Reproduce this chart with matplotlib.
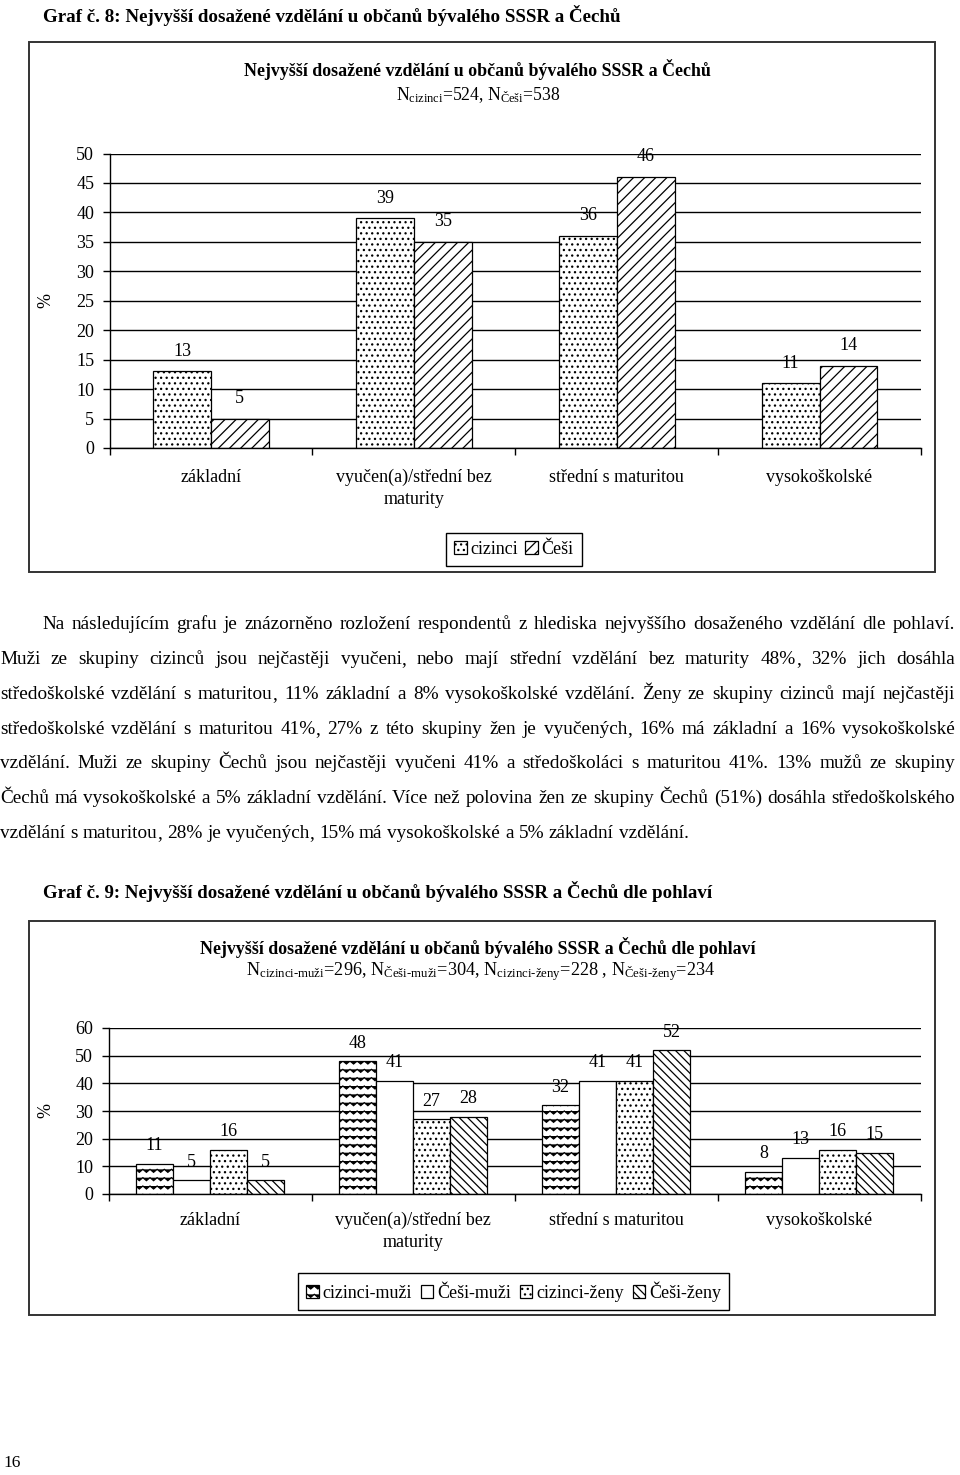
import warnings
import numpy as np
import matplotlib
matplotlib.use('Agg')
import matplotlib.pyplot as plt
import matplotlib.hatch as mhatch
from matplotlib.patches import Rectangle
from matplotlib.font_manager import FontProperties

warnings.filterwarnings('ignore')

W, H = 960, 1475
SERIF = 'Liberation Serif'

plt.rcParams['font.family'] = SERIF
plt.rcParams['mathtext.fontset'] = 'custom'
plt.rcParams['mathtext.rm'] = SERIF
plt.rcParams['mathtext.it'] = SERIF + ':italic'
plt.rcParams['mathtext.bf'] = SERIF + ':bold'
plt.rcParams['hatch.linewidth'] = 0.9

# data
categories = ['základní', 'vyučen(a)/střední bez\nmaturity', 'střední s maturitou', 'vysokoškolské']
cizinci = [13, 39, 36, 11]
cesi = [5, 35, 46, 14]
cizinci_muzi = [11, 48, 32, 8]
cesi_muzi = [5, 41, 41, 13]
cizinci_zeny = [16, 27, 41, 16]
cesi_zeny = [5, 28, 52, 15]

page_title_8 = 'Graf č. 8: Nejvyšší dosažené vzdělání u občanů bývalého SSSR a Čechů'
page_title_9 = 'Graf č. 9: Nejvyšší dosažené vzdělání u občanů bývalého SSSR a Čechů dle pohlaví'
chart_title_1 = 'Nejvyšší dosažené vzdělání u občanů bývalého SSSR a Čechů'
chart_sub_1 = r'N$_{\text{cizinci}}$=524, N$_{\text{Češi}}$=538'
chart_title_2 = 'Nejvyšší dosažené vzdělání u občanů bývalého SSSR a Čechů dle pohlaví'
chart_sub_2 = (r'N$_{\text{cizinci-muži}}$=296, N$_{\text{Češi-muži}}$=304, '
               r'N$_{\text{cizinci-ženy}}$=228 , N$_{\text{Češi-ženy}}$=234')

paragraph = [
    'Na následujícím grafu je znázorněno rozložení respondentů z hlediska nejvyššího dosaženého vzdělání dle pohlaví.',
    'Muži ze skupiny cizinců jsou nejčastěji vyučeni, nebo mají střední vzdělání bez maturity 48%, 32% jich dosáhla',
    'středoškolské vzdělání s maturitou, 11% základní a 8% vysokoškolské vzdělání. Ženy ze skupiny cizinců mají nejčastěji',
    'středoškolské vzdělání s maturitou 41%, 27% z této skupiny žen je vyučených, 16% má základní a 16% vysokoškolské',
    'vzdělání. Muži ze skupiny Čechů jsou nejčastěji vyučeni 41% a středoškoláci s maturitou 41%. 13% mužů ze skupiny',
    'Čechů má vysokoškolské a 5% základní vzdělání. Více než polovina žen ze skupiny Čechů (51%) dosáhla středoškolského',
    'vzdělání s maturitou, 28% je vyučených, 15% má vysokoškolské a 5% základní vzdělání.',
]


# zigzag fill pattern, registered as an extra hatch type ('z')
class ZigZagHatch(mhatch.HatchPatternBase):
    def __init__(self, hatch, density):
        self.rows = hatch.count('z') * 12
        self.teeth = 14
        self.num_vertices = self.rows * (2 * self.teeth + 1)

    def set_vertices_and_codes(self, vertices, codes):
        n = 2 * self.teeth + 1
        xs = np.linspace(0, 1, n)
        amp = np.where(np.arange(n) % 2 == 0, 0.015, -0.015)
        for i in range(self.rows):
            yc = (i + 0.5) / self.rows
            vertices[i * n:(i + 1) * n, 0] = xs
            vertices[i * n:(i + 1) * n, 1] = yc + amp
            codes[i * n] = mhatch.Path.MOVETO
            codes[i * n + 1:(i + 1) * n] = mhatch.Path.LINETO


mhatch._hatch_types.append(ZigZagHatch)

fig = plt.figure(figsize=(W / 100, H / 100), dpi=100)
pg = fig.add_axes([0, 0, 1, 1])
pg.set_xlim(0, W)
pg.set_ylim(H, 0)
pg.axis('off')
renderer = fig.canvas.get_renderer()


def width(s, size):
    prop = FontProperties(family=SERIF, size=size)
    return renderer.get_text_width_height_descent(s, prop, ismath=False)[0]


def fit_text(x0, x1, y, s, **kw):
    t = pg.text(x0, y, s, fontsize=10, va='center', ha='left', **kw)
    w = t.get_window_extent(renderer).width
    t.set_fontsize(10 * (x1 - x0) / w)
    return t


def justify(line, base, x0, x1, size, last=False):
    # one text per word, spread evenly between the margins;
    # a trailing comma is drawn as its own piece right after the word
    words = line.split(' ')
    widths = [width(w, size) for w in words]
    if last:
        gap = width('a a', size) - width('aa', size)
    else:
        gap = (x1 - x0 - sum(widths)) / (len(words) - 1)
    xp = x0
    for w, ww in zip(words, widths):
        if w.endswith(',') and len(w) > 1:
            core = w[:-1]
            pg.text(xp, base, core, fontsize=size, va='baseline', ha='left')
            pg.text(xp + width(core, size), base, ',', fontsize=size,
                    va='baseline', ha='left')
        else:
            pg.text(xp, base, w, fontsize=size, va='baseline', ha='left')
        xp += ww + gap


def px_axes(x0, y0, x1, y1):
    return fig.add_axes([x0 / W, 1 - y1 / H, (x1 - x0) / W, (y1 - y0) / H])


# page texts
fit_text(43, 625, 16, page_title_8, fontweight='bold')
fit_text(43, 712, 892, page_title_9, fontweight='bold')
pg.text(3, 1463, '16', fontsize=12.5, va='center', ha='left')

# paragraph font size from the last (left aligned) line
psize = 10 * 692 / width(paragraph[-1], 10)
base0 = 625 + 0.23 * psize * 100 / 72
for i, line in enumerate(paragraph):
    y = round(base0 + i * 34.7)
    if i == 0:
        justify(line, y, 42, 955, psize)
    elif i == len(paragraph) - 1:
        justify(line, y, 0, 955, psize, last=True)
    else:
        justify(line, y, 0, 955, psize)

# chart frames
for (x0, y0, x1, y1) in [(29, 42, 935, 572), (29, 921, 935, 1315)]:
    pg.add_patch(Rectangle((x0, y0), x1 - x0, y1 - y0, fill=False,
                           edgecolor='#333333', lw=1.4))

fit_text(244, 713, 69, chart_title_1, fontweight='bold')
fit_text(396, 561, 95, chart_sub_1)
fit_text(200, 757, 947, chart_title_2, fontweight='bold')
fit_text(246, 715, 972, chart_sub_2)

FS = 13
x = np.arange(len(categories))


def style(ax, ymax, step, catpad):
    ax.set_xlim(-0.5, 3.5)
    ax.set_ylim(0, ymax)
    ax.set_yticks(np.arange(0, ymax + 1, step))
    ax.yaxis.grid(True, color='black', lw=1.0)
    ax.set_axisbelow(True)
    ax.patch.set_alpha(0)
    for s in ['top', 'right']:
        ax.spines[s].set_visible(False)
    for s in ['left', 'bottom']:
        ax.spines[s].set_linewidth(1.0)
    ax.set_xticks([-0.5, 0.5, 1.5, 2.5, 3.5])
    ax.set_xticklabels([])
    ax.set_xticks(x, categories, minor=True)
    ax.tick_params(axis='x', which='minor', length=0, pad=catpad, labelsize=FS)
    ax.tick_params(axis='x', which='major', length=5, width=1.0)
    ax.tick_params(axis='y', length=5, width=1.0, pad=6, labelsize=FS)
    for lab in ax.get_xticklabels(minor=True):
        lab.set_linespacing(1.35)
    ax.set_ylabel('%', fontsize=FS)


def labels(ax, xs, vals, off):
    for xi, v in zip(xs, vals):
        ax.annotate(str(v), (xi, v), xytext=(0, off), textcoords='offset points',
                    ha='center', va='center', fontsize=FS)


# chart 1
ax1 = px_axes(109.5, 153.5, 921, 448)
bw = 0.285
ax1.bar(x - bw / 2, cizinci, bw, facecolor='white', edgecolor='black', lw=0.9,
        hatch='...', label='cizinci')
ax1.bar(x + bw / 2, cesi, bw, facecolor='white', edgecolor='black', lw=0.9,
        hatch='///', label='Češi')
labels(ax1, x - bw / 2, cizinci, 14.5)
labels(ax1, x + bw / 2, cesi, 14.5)
style(ax1, 50, 5, 15)
ax1.yaxis.set_label_coords((54.5 - 109.5) / (921 - 109.5), 0.5)
leg1 = ax1.legend(loc='center', bbox_to_anchor=(514 / W, 1 - 549.5 / H),
                  bbox_transform=fig.transFigure, ncol=2, fancybox=False,
                  edgecolor='black', handlelength=0.7, handleheight=0.7,
                  handletextpad=0.2, columnspacing=0.4, borderpad=0.45,
                  fontsize=FS, framealpha=1)
leg1.get_frame().set_linewidth(1.0)

# chart 2
ax2 = px_axes(108.5, 1028, 920.5, 1194)
bw2 = 0.182
series2 = [(cizinci_muzi, 'z', 'cizinci-muži'),
           (cesi_muzi, None, 'Češi-muži'),
           (cizinci_zeny, '...', 'cizinci-ženy'),
           (cesi_zeny, '\\\\\\\\', 'Češi-ženy')]
for k, (vals, hatch, name) in enumerate(series2):
    xs = x + (k - 1.5) * bw2
    ax2.bar(xs, vals, bw2, facecolor='white', edgecolor='black', lw=0.9,
            hatch=hatch, label=name)
    labels(ax2, xs, vals, 13)
style(ax2, 60, 10, 13)
ax2.yaxis.set_label_coords((54 - 108.5) / (920.5 - 108.5), 0.5)
leg2 = ax2.legend(loc='center', bbox_to_anchor=(513.5 / W, 1 - 1291.5 / H),
                  bbox_transform=fig.transFigure, ncol=4, fancybox=False,
                  edgecolor='black', handlelength=0.7, handleheight=0.7,
                  handletextpad=0.2, columnspacing=0.5, borderpad=0.45,
                  fontsize=FS, framealpha=1)
leg2.get_frame().set_linewidth(1.0)

fig.savefig('out.png', dpi=100, facecolor='white')
